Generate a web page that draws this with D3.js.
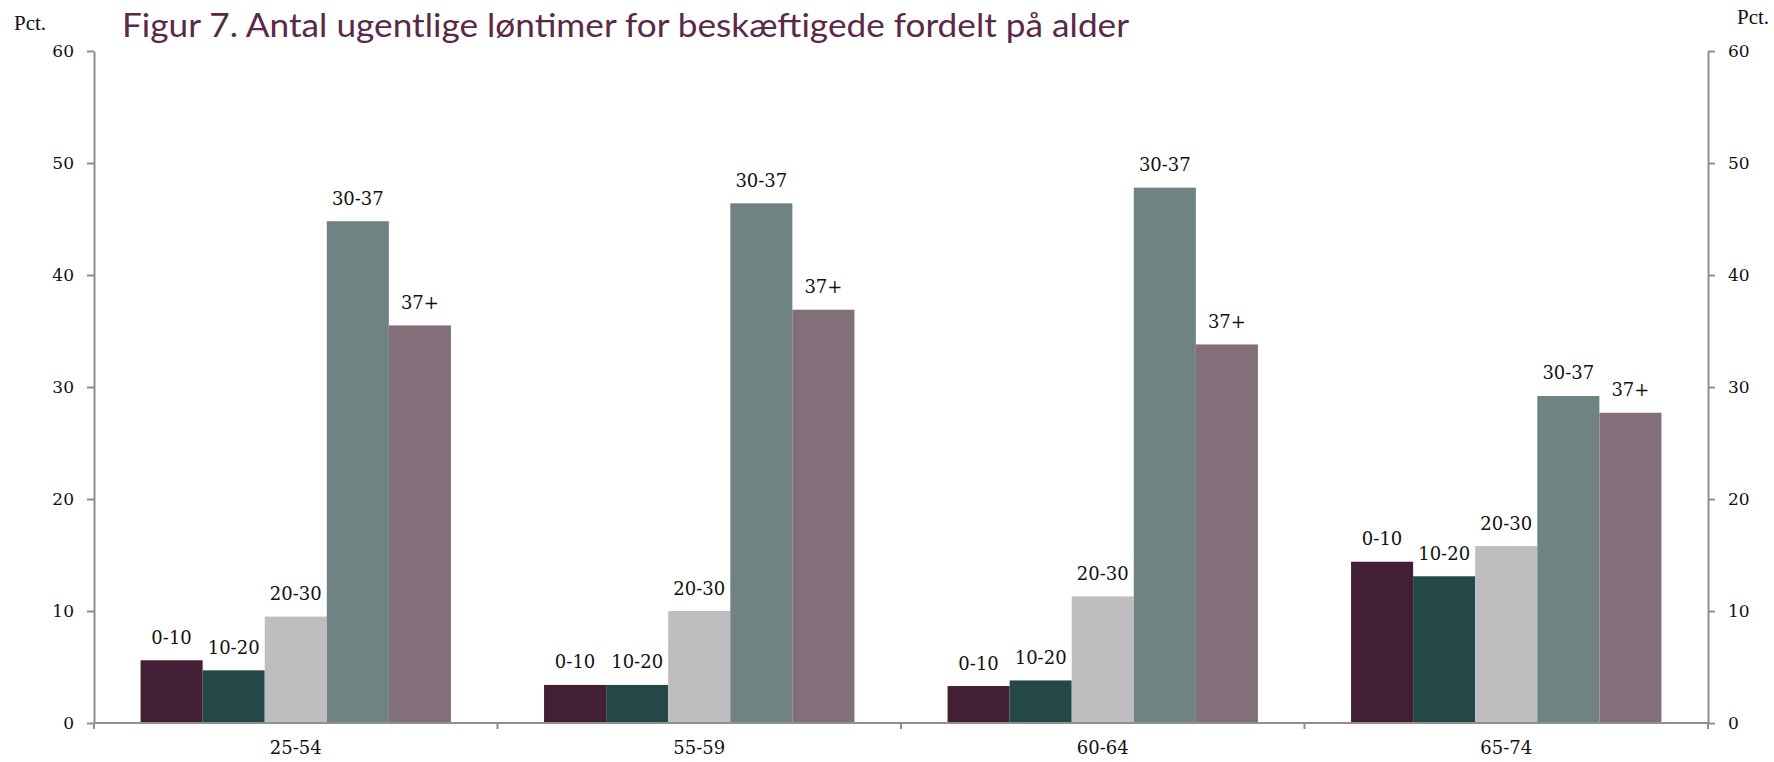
<!DOCTYPE html>
<html>
<head>
<meta charset="utf-8">
<script src="https://cdn.jsdelivr.net/npm/d3@7"></script>
<style>
body { margin: 0; background: #fff; }
svg { display: block; }
</style>
</head>
<body>
<div id="chart"></div>
<script>
// data
var ageGroups = ["25-54", "55-59", "60-64", "65-74"];
var hourBands = ["0-10", "10-20", "20-30", "30-37", "37+"];
var share0to10 = [5.6, 3.4, 3.3, 14.4];
var share10to20 = [4.7, 3.4, 3.8, 13.1];
var share20to30 = [9.5, 10.0, 11.3, 15.8];
var share30to37 = [44.8, 46.4, 47.8, 29.2];
var share37plus = [35.5, 36.9, 33.8, 27.7];
var yTicks = [0, 10, 20, 30, 40, 50, 60];
var colors = ["#431f35", "#244847", "#bebec0", "#6f8482", "#836f7a"];

var seriesValues = [share0to10, share10to20, share20to30, share30to37, share37plus];

var width = 1774, height = 762;
var plotLeft = 94, plotRight = 1708, plotTop = 51, plotBottom = 723;

var svg = d3.select("#chart")
  .append("svg")
  .attr("width", width)
  .attr("height", height);

var x0 = d3.scaleBand()
  .domain(ageGroups)
  .range([plotLeft, plotRight])
  .padding(0);

var x1 = d3.scaleBand()
  .domain(hourBands)
  .range([0, x0.bandwidth()])
  .paddingInner(0)
  .paddingOuter(0.75);

var y = d3.scaleLinear()
  .domain([0, 60])
  .range([plotBottom, plotTop]);

// rows for the bars
var rows = [];
ageGroups.forEach(function(g, i) {
  hourBands.forEach(function(b, j) {
    rows.push({group: g, band: b, value: seriesValues[j][i], color: colors[j]});
  });
});

var bars = svg.append("g");
bars.selectAll("rect")
  .data(rows)
  .enter()
  .append("rect")
  .attr("x", d => x0(d.group) + x1(d.band))
  .attr("y", d => y(d.value))
  .attr("width", x1.bandwidth())
  .attr("height", d => y(0) - y(d.value))
  .attr("fill", d => d.color);

bars.selectAll("text")
  .data(rows)
  .enter()
  .append("text")
  .attr("x", d => x0(d.group) + x1(d.band) + x1.bandwidth() / 2)
  .attr("y", d => y(d.value) - 16.5)
  .attr("text-anchor", "middle")
  .style("font-family", "'DejaVu Serif', serif")
  .style("font-size", "18px")
  .style("fill", "#111")
  .text(d => d.band);

// y axes both sides
var axisColor = "#8f8f8f";

var leftAxis = svg.append("g")
  .attr("transform", "translate(" + plotLeft + ",0)")
  .call(d3.axisLeft(y).tickValues(yTicks).tickSize(7).tickSizeOuter(0).tickPadding(13));

var rightAxis = svg.append("g")
  .attr("transform", "translate(" + plotRight + ",0)")
  .call(d3.axisRight(y).tickValues(yTicks).tickSize(7).tickSizeOuter(0).tickPadding(13));

[leftAxis, rightAxis].forEach(function(a) {
  a.select(".domain").attr("stroke", axisColor).attr("stroke-width", 2);
  a.selectAll(".tick line").attr("stroke", axisColor).attr("stroke-width", 2);
  a.selectAll(".tick text")
    .style("font-family", "'DejaVu Serif', serif")
    .style("font-size", "17px")
    .attr("fill", "#111");
});

// x axis
var xAxis = svg.append("g")
  .attr("transform", "translate(0," + plotBottom + ")")
  .call(d3.axisBottom(x0).tickSize(0).tickPadding(18));
xAxis.select(".domain").remove();
xAxis.selectAll(".tick text")
  .style("font-family", "'DejaVu Serif', serif")
  .style("font-size", "18px")
  .attr("fill", "#111");

svg.append("line")
  .attr("x1", plotLeft).attr("x2", plotRight)
  .attr("y1", y(0)).attr("y2", y(0))
  .attr("stroke", axisColor).attr("stroke-width", 2);

var boundaries = ageGroups.map(g => x0(g)).concat([x0.range()[1]]);
svg.append("g").selectAll("line")
  .data(boundaries)
  .enter()
  .append("line")
  .attr("x1", d => d).attr("x2", d => d)
  .attr("y1", y(0)).attr("y2", y(0) + 6)
  .attr("stroke", axisColor).attr("stroke-width", 2);

// unit labels
svg.append("text")
  .attr("x", 14).attr("y", 30)
  .style("font-family", "'Liberation Serif', serif")
  .style("font-size", "21px")
  .attr("fill", "#111")
  .text("Pct.");

svg.append("text")
  .attr("x", 1737).attr("y", 24)
  .style("font-family", "'Liberation Serif', serif")
  .style("font-size", "21px")
  .attr("fill", "#111")
  .text("Pct.");

// title
svg.append("text")
  .attr("x", 122).attr("y", 37)
  .attr("textLength", 1007)
  .attr("lengthAdjust", "spacingAndGlyphs")
  .style("font-family", "Lato, sans-serif")
  .style("font-size", "33px")
  .attr("fill", "#5b2848")
  .text("Figur 7. Antal ugentlige løntimer for beskæftigede fordelt på alder");
</script>
</body>
</html>
